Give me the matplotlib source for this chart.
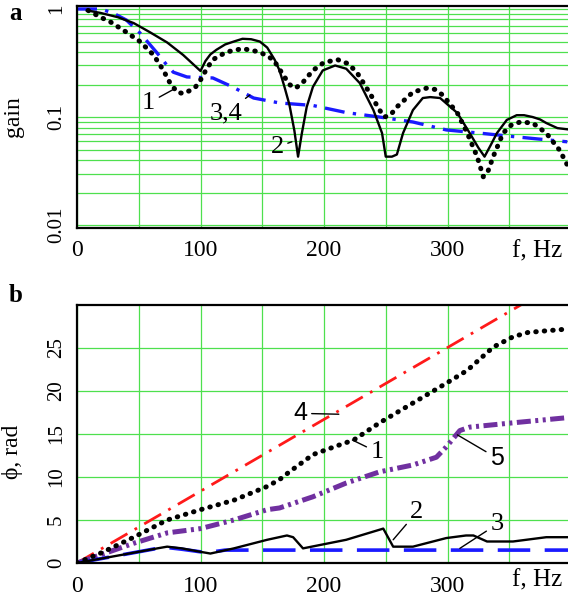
import matplotlib
matplotlib.use('Agg')
import matplotlib.pyplot as plt
from matplotlib.ticker import FixedLocator, LogLocator, NullFormatter

plt.rcParams['font.family'] = ['Liberation Serif', 'DejaVu Serif']

# ---------------- panel a: gain ----------------
f_a1 = [9, 19, 27, 40, 51, 62, 70, 75, 81, 86, 91, 96, 100, 105, 110, 121, 134, 148, 159,
        167, 172, 177, 183, 191, 200, 211, 220, 227, 237, 245, 249, 254, 259, 272, 283, 290,
        296, 308, 316, 324, 329, 333, 337, 345, 352, 359, 369, 380, 391, 397]
g_a1 = [0.97, 0.84, 0.76, 0.61, 0.50, 0.375, 0.27, 0.21, 0.17, 0.165, 0.175, 0.19, 0.22,
        0.28, 0.34, 0.40, 0.43, 0.40, 0.34, 0.245, 0.20, 0.185, 0.21, 0.27, 0.32, 0.34,
        0.31, 0.255, 0.167, 0.116, 0.10, 0.105, 0.124, 0.17, 0.185, 0.18, 0.16, 0.109,
        0.071, 0.043, 0.028, 0.032, 0.043, 0.071, 0.085, 0.09, 0.088, 0.071, 0.049, 0.036]

f_a2 = [8, 19, 33, 46, 59, 73, 86, 100, 104, 108, 113, 120, 127, 134, 141, 148, 154, 160,
        164, 168, 172, 176, 179, 182, 186, 191, 199, 209, 218, 229, 240, 247, 250, 255, 259,
        264, 272, 280, 286, 294, 308, 318, 325, 330, 335, 340, 348, 356, 362, 369, 375, 380,
        389, 397]
g_a2 = [0.97, 0.92, 0.84, 0.74, 0.61, 0.49, 0.375, 0.267, 0.33, 0.38, 0.42, 0.47, 0.50,
        0.53, 0.525, 0.50, 0.44, 0.34, 0.27, 0.19, 0.13, 0.075, 0.043, 0.07, 0.124, 0.19,
        0.27, 0.30, 0.28, 0.206, 0.116, 0.071, 0.043, 0.043, 0.045, 0.071, 0.116, 0.15,
        0.153, 0.15, 0.109, 0.071, 0.052, 0.043, 0.055, 0.071, 0.094, 0.104, 0.104, 0.10,
        0.095, 0.088, 0.079, 0.077]

f_a34 = [0, 19, 29, 40, 51, 65, 72, 78, 89, 110, 126, 143, 164, 191, 218, 245, 272, 299,
         326, 353, 397]
g_a34 = [1.0, 1.0, 0.92, 0.79, 0.60, 0.39, 0.31, 0.26, 0.235, 0.23, 0.19, 0.15, 0.135,
         0.128, 0.11, 0.10, 0.09, 0.076, 0.071, 0.066, 0.059]

# ---------------- panel b: phase ----------------
f_b1 = [0, 20, 46, 73, 100, 127, 154, 164, 172, 191, 210, 224, 245, 272, 299, 316, 337,
        353, 365, 380, 397]
p_b1 = [0, 1.2, 3.0, 5.0, 6.2, 7.3, 8.9, 9.7, 10.6, 12.6, 13.6, 14.3, 16.3, 18.6, 20.9,
        22.4, 25.1, 26.3, 26.8, 27.0, 27.2]

f_b2 = [0, 46, 65, 73, 85, 100, 108, 127, 154, 170, 175, 183, 218, 248, 256, 272, 299, 315,
        321, 332, 353, 380, 397]
p_b2 = [0, 1.2, 1.7, 1.9, 1.7, 1.3, 1.1, 1.7, 2.7, 3.2, 3.0, 1.7, 2.7, 4.0, 1.9, 1.9, 2.9,
        3.2, 3.2, 2.5, 2.5, 3.0, 3.0]

f_b3 = [0, 46, 65, 73, 85, 100, 110, 120, 400]
p_b3 = [0, 1.2, 1.7, 1.8, 1.6, 1.3, 1.3, 1.5, 1.5]

f_b4 = [0, 400]
p_b4 = [0, 33.4]

f_b5 = [0, 46, 73, 100, 127, 154, 164, 191, 218, 245, 272, 291, 299, 310, 318, 353, 397]
p_b5 = [0, 2.3, 3.5, 4.0, 5.0, 6.2, 6.4, 7.7, 9.3, 10.6, 11.4, 12.3, 13.5, 15.4, 15.8,
        16.3, 16.9]

x_ticks = [0, 100, 200, 300]
x_minor = [50, 150, 250, 350]
ya_ticks = [0.01, 0.1, 1]
ya_labels = ['0.01', '0.1', '1']
yb_ticks = [0, 5, 10, 15, 20, 25]

GRID = '#4ee04e'
XFS = 17
YFS = 15
W, H = 568, 595

fig = plt.figure(figsize=(W / 100, H / 100), dpi=100)

def px_axes(left, top, right, bottom):
    return fig.add_axes([left / W, 1 - bottom / H, (right - left) / W, (bottom - top) / H])

DOT = dict(color='black', lw=3.6, linestyle=(0, (0.1, 1.6)), dash_capstyle='round', zorder=5)

# ---- panel a ----
axA = px_axes(77, 6, 571, 228)
axA.set_yscale('log')
axA.set_xlim(0, 400)
axA.set_ylim(0.0094, 1.066)
axA.xaxis.set_major_locator(FixedLocator(x_ticks))
axA.xaxis.set_minor_locator(FixedLocator(x_minor))
axA.set_yticks(ya_ticks)
axA.set_yticklabels(ya_labels)
axA.yaxis.set_minor_locator(LogLocator(base=10, subs=[2, 3, 4, 5, 6, 7, 8, 9]))
axA.yaxis.set_minor_formatter(NullFormatter())
axA.grid(which='both', color=GRID, lw=0.9)
axA.set_axisbelow(True)

axA.plot(f_a34, g_a34, color='#1a1aff', lw=2.4, linestyle=(0, (6, 2.5, 1, 2.5)), zorder=3)
axA.plot(f_a2, g_a2, color='black', lw=1.7, zorder=4)
axA.plot(f_a1, g_a1, **DOT)

axA.set_ylabel('gain', fontsize=17)
axA.yaxis.set_label_coords(-0.108, 0.5)

ann_kw = dict(arrowprops=dict(arrowstyle='-', color='black', lw=1.0,
                              shrinkA=1, shrinkB=0),
              ha='center', va='center', fontsize=19)
axA.annotate('1', xy=(78, 0.18), xytext=(58, 0.135), **ann_kw)
axA.annotate('3,4', xy=(140, 0.16), xytext=(121, 0.109), **ann_kw)
axA.annotate('2', xy=(174, 0.059), xytext=(162, 0.053), **ann_kw)

# ---- panel b ----
axB = px_axes(77, 305, 571, 563)
axB.set_xlim(0, 400)
axB.set_ylim(0, 30)
axB.xaxis.set_major_locator(FixedLocator(x_ticks))
axB.xaxis.set_minor_locator(FixedLocator(x_minor))
axB.set_yticks(yb_ticks)
axB.grid(which='both', color=GRID, lw=0.9)
axB.set_axisbelow(True)

axB.plot(f_b4, p_b4, color='#ff1a1a', lw=2.0, linestyle=(0, (7, 3, 1, 3)), zorder=3)
axB.plot(f_b5, p_b5, color='#7030a0', lw=3.6, linestyle=(0, (2.8, 0.9, 0.6, 0.9, 0.6, 0.9)),
         zorder=3)
axB.plot(f_b3, p_b3, color='#1a1aff', lw=2.6, linestyle=(0, (9, 4)), zorder=3)
axB.plot(f_b2, p_b2, color='black', lw=1.7, zorder=4)
axB.plot(f_b1, p_b1, **DOT)

axB.set_ylabel('ϕ, rad', fontsize=17)
axB.yaxis.set_label_coords(-0.11, 0.43)

sans_kw = dict(ann_kw, family=['Liberation Sans', 'DejaVu Sans'], fontsize=18)
axB.annotate('4', xy=(212, 17.3), xytext=(181, 17.4), **sans_kw)
axB.annotate('1', xy=(223, 14.3), xytext=(243, 12.9), **ann_kw)
axB.annotate('5', xy=(308, 14.9), xytext=(340, 12.2), **sans_kw)
axB.annotate('2', xy=(256, 2.7), xytext=(275, 5.9), **ann_kw)
axB.annotate('3', xy=(310, 1.7), xytext=(340, 4.5), **ann_kw)

for ax in (axA, axB):
    ax.tick_params(which='both', length=0)
    ax.tick_params(axis='x', pad=9, labelsize=XFS)
    ax.tick_params(axis='y', pad=8, labelsize=YFS)
    for lab in ax.get_yticklabels():
        lab.set_rotation(90)
        lab.set_va('center')
    for s in ax.spines.values():
        s.set_linewidth(1.6)
        s.set_zorder(6)

fig.text(537 / W, 1 - 251 / H, 'f, Hz', fontsize=18, ha='center', va='center')
fig.text(537 / W, 1 - 580 / H, 'f, Hz', fontsize=18, ha='center', va='center')
fig.text(16 / W, 1 - 13 / H, 'a', fontsize=18, fontweight='bold', ha='center', va='center')
fig.text(16 / W, 1 - 296 / H, 'b', fontsize=18, fontweight='bold', ha='center', va='center')

fig.savefig('out.png', dpi=100)
